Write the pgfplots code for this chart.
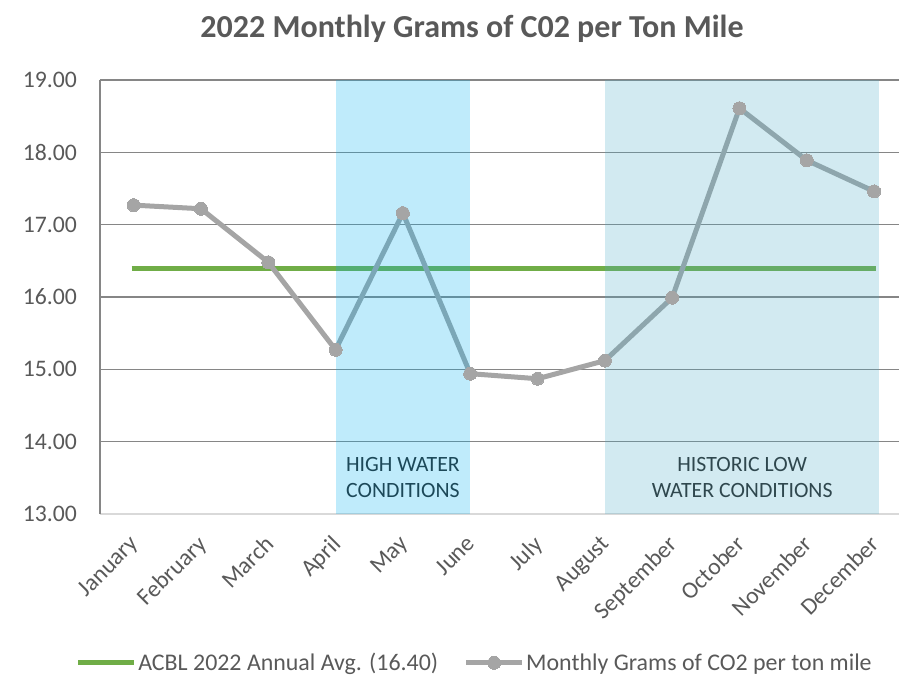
\documentclass[border=0pt]{standalone}
\usepackage{pgfplots}
\pgfplotsset{compat=1.18}
\usepackage{pgfplotstable}
\usepackage{fontspec}
\setmainfont{Carlito}

\definecolor{txtgray}{HTML}{595959}
\definecolor{gridgray}{HTML}{868686}
\definecolor{linegray}{HTML}{A5A5A5}
\definecolor{acblgreen}{HTML}{70AD47}
\definecolor{highblue}{HTML}{00B0F0}
\definecolor{lowteal}{HTML}{4BACC6}

% monthly grams of CO2 per ton mile, 2022
\pgfplotstableread{
idx value
0  17.27
1  17.22
2  16.48
3  15.27
4  17.16
5  14.94
6  14.87
7  15.12
8  15.99
9  18.61
10 17.89
11 17.46
}\monthly

\begin{document}
\begin{tikzpicture}
\begin{axis}[
  scale only axis, width=799bp, height=434bp,
  xmin=-0.5, xmax=11.37, ymin=13, ymax=19,
  xtick={0,...,11}, ytick={13,...,19},
  xticklabels={January,February,March,April,May,June,July,August,September,October,November,December},
  major tick length=0pt,
  ymajorgrids, grid style={gridgray, line width=1.5bp},
  axis x line*=bottom, axis y line*=left,
  x axis line style={draw=black!15, line width=2bp, -},
  y axis line style={draw=gridgray, line width=1.5bp, -},
  /pgf/number format/assume math mode=true,
  yticklabel style={/pgf/number format/.cd, fixed, fixed zerofill, precision=2, /tikz/.cd,
    font=\fontsize{23.7bp}{28bp}\selectfont, text=txtgray, inner sep=0pt, xshift=-23bp},
  xticklabel style={xshift=-5bp, yshift=-20bp, rotate=45, anchor=north east,
    font=\fontsize{23.7bp}{28bp}\selectfont, text=txtgray, inner sep=0pt},
  legend columns=2,
  legend cell align=left,
  legend style={at={(axis description cs:0.4687,-0.343)}, anchor=center, draw=none, fill=none,
    font=\fontsize{23.9bp}{28bp}\selectfont, text=txtgray, nodes={inner sep=1.5bp},
    /tikz/every even column/.append style={column sep=24bp}},
  legend image code/.code={\draw[mark repeat=2, mark phase=2, #1] plot coordinates {(0bp,0bp) (28bp,0bp) (56bp,0bp)};},
]
\addplot[acblgreen, line width=5bp] coordinates {(-0.03,16.40) (11.03,16.40)};
\addlegendentry{ACBL 2022 Annual Avg. (16.40)}
\addplot[linegray, line width=5bp, line join=round, mark=*, mark size=6.5bp,
  mark options={fill=linegray, draw=linegray, line width=0pt}] table[x=idx, y=value] {\monthly};
\addlegendentry{Monthly Grams of CO2 per ton mile}

\node[align=center, text=black!85, font=\fontsize{21.8bp}{26bp}\selectfont] at (axis cs:4,13.5) {HIGH WATER\\CONDITIONS};
\node[align=center, text=black!85, font=\fontsize{21.8bp}{26bp}\selectfont] at (axis cs:9.04,13.5) {HISTORIC LOW\\WATER CONDITIONS};
\fill[highblue, opacity=0.25] (axis cs:3,13) rectangle (axis cs:5,19);
\fill[lowteal, opacity=0.25] (axis cs:7,13) rectangle (axis cs:11.07,19);
\end{axis}
\node[anchor=base, font=\bfseries\fontsize{32bp}{36bp}\selectfont, text=txtgray] at (372bp,476bp) {2022 Monthly Grams of C02 per Ton Mile};
\pgfresetboundingbox
\path (-100bp,-161bp) rectangle (799bp,514bp);
\end{tikzpicture}
\end{document}
